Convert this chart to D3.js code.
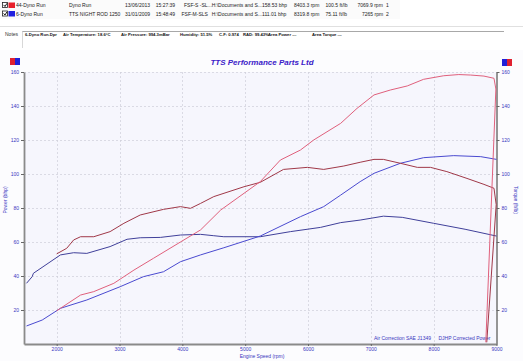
<!DOCTYPE html>
<html>
<head>
<meta charset="utf-8">
<script src="https://cdn.jsdelivr.net/npm/d3@7"></script>
<style>
  body { margin: 0; background: #fff; }
  svg { display: block; font-family: "Liberation Sans", Arial, sans-serif; }
</style>
</head>
<body>
<div id="chart"></div>
<script>
// Run table rows (header)
var runRows = [
  ["44-Dyno Run", "Dyno Run", "13/06/2013", "15:27:39", "FSF-S -SL...", "H:\\Documents and S...", "158.53 bhp", "8403.3 rpm", "100.5 ft/lb", "7069.9 rpm", "1"],
  ["6-Dyno Run", "TTS NIGHT ROD 1250", "31/01/2009", "15:48:49", "FSF-M-SLS", "H:\\Documents and S...", "111.01 bhp", "8319.8 rpm", "75.11 ft/lb", "7265 rpm", "2"]
];
var runColors = ["#e8202a", "#2020e0"];
var notesParts = ["6-Dyno Run.Dpr", "Air Temperature: 18.6°C", "Air Pressure: 994.3mBar", "Humidity: 51.5%", "C.F: 0.974", "RAD: 99.43%", "Area Power ---", "Area Torque ---"];

var xTicks = [2000, 3000, 4000, 5000, 6000, 7000, 8000, 9000];
var yTicks = [20, 40, 60, 80, 100, 120, 140, 160];

// 6-Dyno Run (blue)
var bluePowerRpm = [1520, 1770, 2060, 2480, 3010, 3380, 3700, 3970, 4290, 4660, 5240, 5880, 6250, 6520, 6830, 7050, 7470, 7840, 8320, 8750, 9000];
var bluePower    = [10.6, 14.1, 21, 25.9, 33.7, 39.6, 42.5, 48.4, 52.4, 56.6, 63.5, 74.9, 80.8, 87.6, 95.5, 100.4, 106.3, 109.6, 110.8, 110.2, 108.6];
var blueTorqueRpm = [1520, 1610, 1630, 2060, 2270, 2480, 2850, 3120, 3330, 3650, 3970, 4290, 4500, 4660, 5240, 5720, 6200, 6520, 6830, 7200, 7500, 8000, 8500, 9000];
var blueTorque    = [35.7, 39.6, 41.6, 52.4, 53.7, 53.3, 57.3, 61.6, 62.5, 62.7, 64.1, 64.5, 63.7, 63.1, 63.1, 66.1, 68.6, 71.4, 72.9, 75.2, 74.5, 71, 67.5, 63.5];

// 44-Dyno Run (red)
var redPowerRpm = [2000, 2060, 2380, 2590, 2910, 3230, 3540, 3970, 4290, 4610, 5240, 5560, 5880, 6090, 6520, 6780, 7050, 7310, 7580, 7840, 8160, 8400, 8590, 8800, 8960, 8990, 8830];
var redPower    = [19.5, 21, 28.8, 30.8, 35.7, 43.5, 50.4, 60, 67.1, 78.8, 95.5, 108.2, 114.1, 120, 129.8, 138.6, 146.5, 149.4, 151.8, 155.7, 157.8, 158.5, 158.2, 157.6, 156.3, 150, 1];
var redTorqueRpm = [2000, 2160, 2270, 2380, 2590, 2850, 3070, 3330, 3700, 3970, 4130, 4290, 4500, 4980, 5240, 5610, 5990, 6250, 6570, 6830, 7050, 7200, 7470, 7740, 7950, 8210, 8530, 8800, 8960, 8995, 8845];
var redTorque    = [53, 56.3, 61.2, 63.1, 63.1, 66.1, 71, 75.9, 79.2, 80.8, 79.8, 82.7, 86.7, 92.5, 95.1, 102.7, 103.9, 102.7, 104.7, 106.9, 108.6, 108.6, 106.3, 103.9, 103.9, 101.4, 97.4, 93.9, 91.6, 82, 1];

var W = 523, H = 361;
var plotLeft = 24, plotRight = 496.5, plotTop = 72, plotBottom = 344;
var axisColor = "#3a36c0";
var fontSize = 5;

var svg = d3.select("#chart").append("svg").attr("width", W).attr("height", H);

// backgrounds
svg.append("rect").attr("x", 0).attr("y", 0).attr("width", W).attr("height", H).attr("fill", "#fff");
svg.append("rect").attr("x", 0).attr("y", 0).attr("width", 400).attr("height", 19).attr("fill", "#fbfbfb");
svg.append("line").attr("x1", 0).attr("x2", W).attr("y1", 26.5).attr("y2", 26.5).attr("stroke", "#e0e0e0");
svg.append("rect").attr("x", 0).attr("y", 50).attr("width", W).attr("height", H - 50).attr("fill", "#fcfcfe");
svg.append("rect").attr("x", plotLeft).attr("y", plotTop).attr("width", plotRight - plotLeft)
  .attr("height", plotBottom - plotTop).attr("fill", "#f6f6fd");

// header rows
var colX = [16, 69, 125, 155.7, 184, 211.7, 262, 294, 325.5, 357.5, 386];
runRows.forEach(function(row, i) {
  var yy = 5.5 + i * 8.5;
  svg.append("rect").attr("x", 2.5).attr("y", yy - 3).attr("width", 5).attr("height", 5)
    .attr("fill", "#fff").attr("stroke", "#222").attr("stroke-width", 0.8);
  svg.append("path").attr("d", "M3.6," + (yy - 0.6) + " L5," + (yy + 1) + " L7," + (yy - 2.2))
    .attr("fill", "none").attr("stroke", "#000").attr("stroke-width", 0.9);
  svg.append("rect").attr("x", 8.5).attr("y", yy - 3).attr("width", 6.5).attr("height", 5.5).attr("fill", runColors[i]);
  row.forEach(function(t, j) {
    var xx = colX[j];
    if (i === 1 && j === 4) xx = 181.5;
    if (i === 1 && j === 9) xx = 362;
    svg.append("text").attr("x", xx).attr("y", yy + 1.8).attr("font-size", fontSize).attr("fill", "#222").text(t);
  });
});

// notes
svg.append("text").attr("x", 5).attr("y", 36).attr("font-size", fontSize).attr("fill", "#333").text("Notes");
svg.append("line").attr("x1", 22).attr("x2", 504).attr("y1", 31.5).attr("y2", 31.5).attr("stroke", "#a8a8a8");
svg.append("line").attr("x1", 22.5).attr("x2", 22.5).attr("y1", 31.5).attr("y2", 48).attr("stroke", "#d8d8d8");
var notesX = [25, 63, 121, 180, 219, 243, 268, 312];
notesParts.forEach(function(t, i) {
  svg.append("text").attr("x", notesX[i]).attr("y", 36).attr("font-size", 4.2).attr("font-weight", "bold")
    .attr("fill", "#111").text(t);
});

// title
svg.append("text").attr("x", 262).attr("y", 64.5).attr("text-anchor", "middle")
  .attr("font-size", 8).attr("font-weight", "bold").attr("font-style", "italic")
  .attr("fill", "#3a20c8").text("TTS Performance Parts Ltd");

// legend swatches
svg.append("rect").attr("x", 10).attr("y", 58).attr("width", 5).attr("height", 7).attr("fill", "#e02030");
svg.append("rect").attr("x", 15).attr("y", 58).attr("width", 5).attr("height", 7).attr("fill", "#2020d8");
svg.append("rect").attr("x", 502).attr("y", 59).attr("width", 5).attr("height", 7).attr("fill", "#2020d8");
svg.append("rect").attr("x", 507).attr("y", 59).attr("width", 5).attr("height", 7).attr("fill", "#e02030");

// scales
var x = d3.scaleLinear().domain([1480, 9000]).range([plotLeft, plotRight]);
var y = d3.scaleLinear().domain([0, 160]).range([plotBottom, plotTop]);

// grid
var grid = svg.append("g").attr("stroke", "#cfcfd8").attr("stroke-width", 0.7).attr("stroke-dasharray", "2,2");
grid.selectAll("line.h").data(yTicks).enter().append("line")
  .attr("x1", plotLeft).attr("x2", plotRight)
  .attr("y1", function(d) { return Math.round(y(d)) + 0.5; })
  .attr("y2", function(d) { return Math.round(y(d)) + 0.5; });
grid.selectAll("line.v").data(xTicks.slice(0, -1)).enter().append("line")
  .attr("y1", plotTop).attr("y2", plotBottom)
  .attr("x1", function(d) { return Math.round(x(d)) + 0.5; })
  .attr("x2", function(d) { return Math.round(x(d)) + 0.5; });

// axes
function styleAxis(g) {
  g.selectAll("path").attr("stroke", "#8a8a8a").attr("stroke-width", 1.8);
  g.selectAll("line").attr("stroke", "#666");
  g.selectAll("text").attr("fill", axisColor).attr("font-size", fontSize)
    .attr("font-family", "Liberation Sans, Arial, sans-serif");
}
svg.append("g").attr("transform", "translate(" + plotLeft + ",0)")
  .call(d3.axisLeft(y).tickValues(yTicks).tickSize(3).tickPadding(2).tickSizeOuter(0))
  .call(styleAxis);
svg.append("g").attr("transform", "translate(" + plotRight + ",0)")
  .call(d3.axisRight(y).tickValues(yTicks).tickSize(3).tickPadding(2).tickSizeOuter(0))
  .call(styleAxis);
svg.append("g").attr("transform", "translate(0," + plotBottom + ")")
  .call(d3.axisBottom(x).tickValues(xTicks).tickFormat(d3.format("d")).tickSize(2).tickPadding(1).tickSizeOuter(0))
  .call(styleAxis);

// axis titles
svg.append("text").attr("transform", "translate(7,200) rotate(-90)").attr("text-anchor", "middle")
  .attr("font-size", fontSize).attr("fill", axisColor).text("Power (bhp)");
svg.append("text").attr("transform", "translate(514,200) rotate(90)").attr("text-anchor", "middle")
  .attr("font-size", fontSize).attr("fill", axisColor).text("Torque (ft/lb)");
svg.append("text").attr("x", 262).attr("y", 358).attr("text-anchor", "middle")
  .attr("font-size", fontSize).attr("fill", axisColor).text("Engine Speed (rpm)");
svg.append("text").attr("x", 374).attr("y", 340).attr("font-size", fontSize).attr("fill", axisColor).text("Air Correction SAE J1349");
svg.append("text").attr("x", 438.5).attr("y", 340).attr("font-size", fontSize).attr("fill", axisColor).text("DJHP Corrected Power");

// curves
var line = d3.line().x(function(d) { return x(d[0]); }).y(function(d) { return y(d[1]); });
var series = [
  {rpm: blueTorqueRpm, val: blueTorque, color: "#40409a"},
  {rpm: bluePowerRpm, val: bluePower, color: "#4a4ad0"},
  {rpm: redTorqueRpm, val: redTorque, color: "#a03848"},
  {rpm: redPowerRpm, val: redPower, color: "#e0607c"}
];
svg.selectAll("path.curve").data(series).enter().append("path")
  .attr("class", "curve")
  .attr("fill", "none")
  .attr("stroke", function(d) { return d.color; })
  .attr("stroke-width", 1)
  .attr("d", function(d) { return line(d3.zip(d.rpm, d.val)); });
</script>
</body>
</html>
